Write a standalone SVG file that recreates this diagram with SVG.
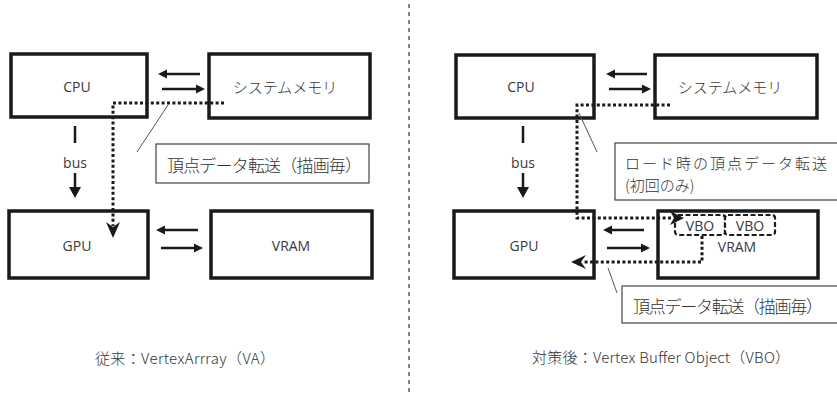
<svg xmlns="http://www.w3.org/2000/svg" width="837" height="395" viewBox="0 0 837 395">
<style>
.box{fill:#fff;stroke:#1a1a1a;stroke-width:3.5}
.lbl{fill:#fff;stroke:#444;stroke-width:1.2}
.t{font-family:"Open Sans","Noto Sans",sans-serif;font-size:14px;fill:#3a3a3a;text-anchor:middle;dominant-baseline:central}
.j{font-family:"Noto Sans CJK JP",sans-serif;font-weight:300;fill:#333;dominant-baseline:central}
.arr{stroke:#1a1a1a;stroke-width:2.5;fill:none}
.dot{stroke:#1a1a1a;stroke-width:3;fill:none;stroke-dasharray:3 2.4}
.lead{stroke:#555;stroke-width:1;fill:none}
.head{fill:#1a1a1a}
.vbo{fill:#fff;stroke:#1a1a1a;stroke-width:2.2;stroke-dasharray:5 2.5}
</style>
<rect width="837" height="395" fill="#fff"/>
<line x1="409" y1="4" x2="409" y2="395" stroke="#333" stroke-width="1.2" stroke-dasharray="4 4"/>

<!-- Left side -->
<g id="cpu-l"><rect class="box" x="11" y="54" width="136" height="63"/><text class="t" x="77" y="86">CPU</text></g>
<g id="sysmem-l"><rect class="box" x="209" y="54" width="161" height="64"/><text class="j" x="285" y="86" font-size="15" text-anchor="middle">システムメモリ</text></g>
<g id="gpu-l"><rect class="box" x="9" y="211" width="139" height="67"/><text class="t" x="77" y="245">GPU</text></g>
<g id="vram-l"><rect class="box" x="211" y="211" width="161" height="67"/><text class="t" x="291" y="245" font-size="15">VRAM</text></g>
<g id="label-l"><rect class="lbl" x="156" y="144" width="213" height="39"/><text class="j" x="167" y="164" font-size="17" textLength="195" lengthAdjust="spacing">頂点データ転送（描画毎）</text></g>
<g id="caption-l"><text class="j" x="95" y="357" font-size="15" textLength="180" lengthAdjust="spacing">従来：VertexArrray（VA）</text></g>

<!-- Right side -->
<g id="cpu-r"><rect class="box" x="456" y="55" width="138" height="63"/><text class="t" x="521" y="86">CPU</text></g>
<g id="sysmem-r"><rect class="box" x="655" y="55" width="162" height="63"/><text class="j" x="730" y="86" font-size="15" text-anchor="middle">システムメモリ</text></g>
<g id="gpu-r"><rect class="box" x="454" y="211" width="140" height="67"/><text class="t" x="524" y="245">GPU</text></g>
<g id="vram-r"><rect class="box" x="658" y="211" width="160" height="67"/><text class="t" x="737" y="246" font-size="15">VRAM</text></g>
<g id="vbo1"><rect class="vbo" x="675" y="215" width="50" height="20" rx="3"/><text class="t" x="700" y="225" font-size="10">VBO</text></g>
<g id="vbo2"><rect class="vbo" x="725" y="215" width="50" height="20" rx="3"/><text class="t" x="750" y="225" font-size="10">VBO</text></g>
<g id="label-r1"><rect class="lbl" x="615" y="143" width="230" height="57"/><text class="j" x="625" y="162" font-size="15" textLength="202" lengthAdjust="spacing">ロード時の頂点データ転送</text><text class="j" x="625" y="184" font-size="15">(初回のみ)</text></g>
<g id="label-r2"><rect class="lbl" x="622" y="286" width="230" height="37"/><text class="j" x="633" y="305" font-size="17" textLength="190" lengthAdjust="spacing">頂点データ転送（描画毎）</text></g>
<g id="caption-r"><text class="j" x="532" y="356" font-size="15" textLength="258" lengthAdjust="spacing">対策後：Vertex Buffer Object（VBO）</text></g>

<g id="connectors">
<line class="arr" x1="200" y1="74" x2="166" y2="74"/><polygon class="head" points="158,74 167,69.5 167,78.5"/>
<line class="arr" x1="162" y1="89" x2="197" y2="89"/><polygon class="head" points="205,89 196,84.5 196,93.5"/>
<line class="arr" x1="198" y1="230" x2="164" y2="230"/><polygon class="head" points="156,230 165,225.5 165,234.5"/>
<line class="arr" x1="161" y1="248" x2="195" y2="248"/><polygon class="head" points="203,248 194,243.5 194,252.5"/>
<line class="arr" x1="75" y1="126" x2="75" y2="143"/>
<text class="t" x="75" y="162" font-size="11">bus</text>
<line class="arr" x1="75" y1="173" x2="75" y2="190"/><polygon class="head" points="75,198 69,187 81,187"/>
<path class="dot" d="M224,103 H113 V226"/>
<polygon class="head" points="113,238 106,222 113,227 120,222"/>
<line class="lead" x1="168" y1="105" x2="137" y2="152"/>

<line class="arr" x1="647" y1="74" x2="614" y2="74"/><polygon class="head" points="606,74 615,69.5 615,78.5"/>
<line class="arr" x1="609" y1="89" x2="643" y2="89"/><polygon class="head" points="651,89 642,84.5 642,93.5"/>
<line class="arr" x1="644" y1="230" x2="611" y2="230"/><polygon class="head" points="603,230 612,225.5 612,234.5"/>
<line class="arr" x1="607" y1="248" x2="642" y2="248"/><polygon class="head" points="650,248 641,243.5 641,252.5"/>
<line class="arr" x1="523" y1="126" x2="523" y2="143"/>
<text class="t" x="523" y="162" font-size="11">bus</text>
<line class="arr" x1="523" y1="173" x2="523" y2="190"/><polygon class="head" points="523,198 517,187 529,187"/>
<path class="dot" d="M670,105 H577 V218 H673"/>
<polygon class="head" points="684,218 670,211 674,218 670,225"/>
<path class="dot" d="M702,236 V262 H583"/>
<polygon class="head" points="571,262 586,255 581,262 586,269"/>
<line class="lead" x1="579" y1="113" x2="597" y2="152"/>
<line class="lead" x1="608" y1="268" x2="617" y2="293"/>
</g>
</svg>
